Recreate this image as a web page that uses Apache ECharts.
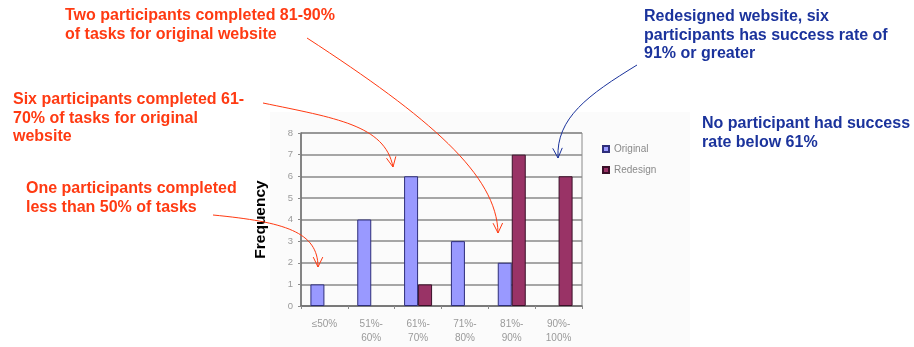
<!DOCTYPE html>
<html>
<head>
<meta charset="utf-8">
<script src="https://cdn.jsdelivr.net/npm/echarts@6/dist/echarts.min.js"></script>
<style>
  html, body { margin: 0; padding: 0; background: #fff; }
  #chart { width: 914px; height: 347px; }
</style>
</head>
<body>
<div id="chart"></div>
<script>
// Task success-rate bands and how many participants fell in each
const categories = ['\u226450%', '51%-\n60%', '61%-\n70%', '71%-\n80%', '81%-\n90%', '90%-\n100%'];
const originalCounts = [1, 4, 6, 3, 2, 0];
const redesignCounts = [0, 0, 1, 0, 7, 6];
const yTicks = { min: 0, max: 8, interval: 1 };

const RED = '#ff3a12';
const BLUE = '#1b339c';
const FONT = '"Liberation Sans", Arial, sans-serif';

const chart = echarts.init(document.getElementById('chart'), null, { renderer: 'canvas' });

// Empty bands get no outline so nothing shows on the baseline
function barData(values) {
  return values.map(v => v === 0 ? { value: v, itemStyle: { borderWidth: 0, opacity: 0 } } : v);
}

// Callout text blocks
function callout(x, yFirst, lines, color) {
  return lines.map((t, i) => ({
    type: 'text',
    left: x,
    top: yFirst + i * 18.5 - 8,
    z: 10,
    style: { text: t, fill: color, font: 'bold 16px ' + FONT }
  }));
}

// Curved arrow: cubic bezier with an open V head at the end
function arrow(p0, c1, c2, p1, color) {
  const dx = p1[0] - c2[0], dy = p1[1] - c2[1];
  const len = Math.hypot(dx, dy) || 1;
  const ux = dx / len, uy = dy / len;
  const L = 11, a = Math.PI / 7;
  const rot = (ang) => [
    p1[0] - L * (ux * Math.cos(ang) - uy * Math.sin(ang)),
    p1[1] - L * (ux * Math.sin(ang) + uy * Math.cos(ang))
  ];
  return [
    {
      type: 'bezierCurve', z: 10, silent: true,
      shape: { x1: p0[0], y1: p0[1], cpx1: c1[0], cpy1: c1[1], cpx2: c2[0], cpy2: c2[1], x2: p1[0], y2: p1[1] },
      style: { stroke: color, lineWidth: 1, fill: null }
    },
    {
      type: 'polyline', z: 10, silent: true,
      shape: { points: [rot(a), p1, rot(-a)] },
      style: { stroke: color, lineWidth: 1, fill: null }
    }
  ];
}

const graphics = [].concat(
  [{
    type: 'rect', z: -1, silent: true,
    shape: { x: 270, y: 112, width: 420, height: 235 },
    style: { fill: '#fbfbfb' }
  }],
  callout(65, 16, ['Two participants completed 81-90%', 'of tasks for original website'], RED),
  callout(13, 100, ['Six participants completed 61-', '70% of tasks for original', 'website'], RED),
  callout(26, 189, ['One participants completed', 'less than 50% of tasks'], RED),
  callout(644, 17, ['Redesigned website, six', 'participants has success rate of', '91% or greater'], BLUE),
  callout(702, 124, ['No participant had success', 'rate below 61%'], BLUE),
  arrow([307, 38], [430, 118], [497, 175], [498, 233], RED),
  arrow([263, 103], [335, 118], [385, 125], [393, 167], RED),
  arrow([213, 215], [285, 222], [318, 232], [318, 267], RED),
  arrow([637, 65], [588, 95], [556, 118], [558, 158], BLUE)
);

chart.setOption({
  animation: false,
  backgroundColor: '#ffffff',
  textStyle: { fontFamily: FONT },
  grid: {
    left: 301, right: 332, top: 133, bottom: 41,
    show: true, borderColor: '#8a8a8a', borderWidth: 1, backgroundColor: 'transparent'
  },
  legend: {
    orient: 'vertical',
    left: 597, top: 139,
    itemWidth: 6, itemHeight: 6, itemGap: 11,
    icon: 'rect',
    textStyle: { fontSize: 10, color: '#8a8a8a', fontFamily: FONT },
    data: ['Original', 'Redesign']
  },
  xAxis: {
    type: 'category',
    data: categories,
    axisLine: { show: true, lineStyle: { color: '#6f6f6f', width: 1.5 } },
    axisTick: { show: true, length: 3, lineStyle: { color: '#8a8a8a' } },
    axisLabel: { color: '#9a9a9a', fontSize: 10, lineHeight: 14, margin: 11, interval: 0 },
    splitLine: { show: false }
  },
  yAxis: {
    type: 'value',
    min: yTicks.min, max: yTicks.max, interval: yTicks.interval,
    name: 'Frequency',
    nameLocation: 'middle',
    nameRotate: 90,
    nameGap: 32,
    nameTextStyle: { color: '#000', fontSize: 15.5, fontWeight: 'bold', fontFamily: FONT },
    axisLine: { show: true, lineStyle: { color: '#6f6f6f', width: 1.5 } },
    axisTick: { show: true, length: 3, lineStyle: { color: '#8a8a8a' } },
    axisLabel: { color: '#9a9a9a', fontSize: 9.5, margin: 8 },
    splitLine: { show: true, lineStyle: { color: '#8a8a8a', width: 1.5 } }
  },
  series: [
    {
      name: 'Original',
      type: 'bar',
      data: barData(originalCounts),
      barWidth: 14,
      barGap: '0%',
      itemStyle: { color: '#9999ff', borderColor: '#2e2e7a', borderWidth: 1 }
    },
    {
      name: 'Redesign',
      type: 'bar',
      data: barData(redesignCounts),
      barWidth: 14,
      barGap: '0%',
      itemStyle: { color: '#993366', borderColor: '#3a1028', borderWidth: 1 }
    }
  ],
  graphic: { elements: graphics }
});
</script>
</body>
</html>
